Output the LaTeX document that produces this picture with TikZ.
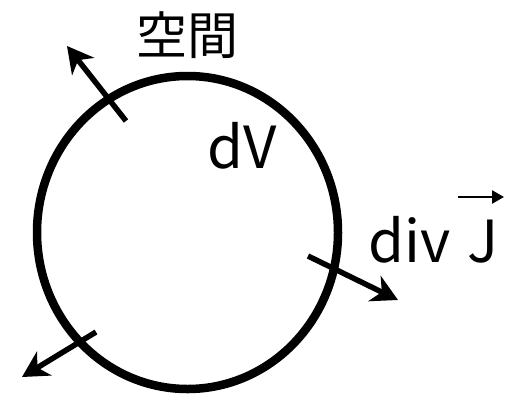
\documentclass[tikz,border=0pt]{standalone}
\usepackage{fontspec}
\setmainfont{Noto Sans CJK JP}
\usetikzlibrary{arrows.meta}
\tikzset{flux/.style={line width=5.5pt, -{Stealth[length=26pt,width=28pt,inset=8pt]}},
  vecarr/.style={line width=2.4pt, -{Triangle[length=12pt,width=13pt]}},
  lbl/.style={inner sep=0pt, font=\fontsize{58}{62}\selectfont}}

\begin{document}
\begin{tikzpicture}[x=1pt,y=-1pt]
  \useasboundingbox (0,0) rectangle (513,394);
  % the volume element
  \draw[line width=8.5pt] (187.5,232.5) ellipse [x radius=150.5, y radius=156.5];
  \node[inner sep=0pt, font=\fontsize{51}{55}\selectfont] (space) at (187,35) {空間};
  \node[lbl, anchor=base west] (dv) at (207,168) {dV};
  \node[lbl, anchor=base west] (div) at (368,262) {div};
  \node[lbl, anchor=base west] (jj) at (467,262) {J};
  \coordinate (vs) at (458,197);
  \coordinate (ve) at (504,197);
  \draw[vecarr] (vs) -- (ve);
  % outgoing flux
  \coordinate (a1) at (126,121);
  \coordinate (b1) at (67,46);
  \coordinate (a2) at (308,256);
  \coordinate (b2) at (398,300);
  \coordinate (a3) at (96,332);
  \coordinate (b3) at (22,377);
  \draw[flux] (a1) -- (b1);
  \draw[flux] (a2) -- (b2);
  \draw[flux] (a3) -- (b3);
\end{tikzpicture}
\end{document}
